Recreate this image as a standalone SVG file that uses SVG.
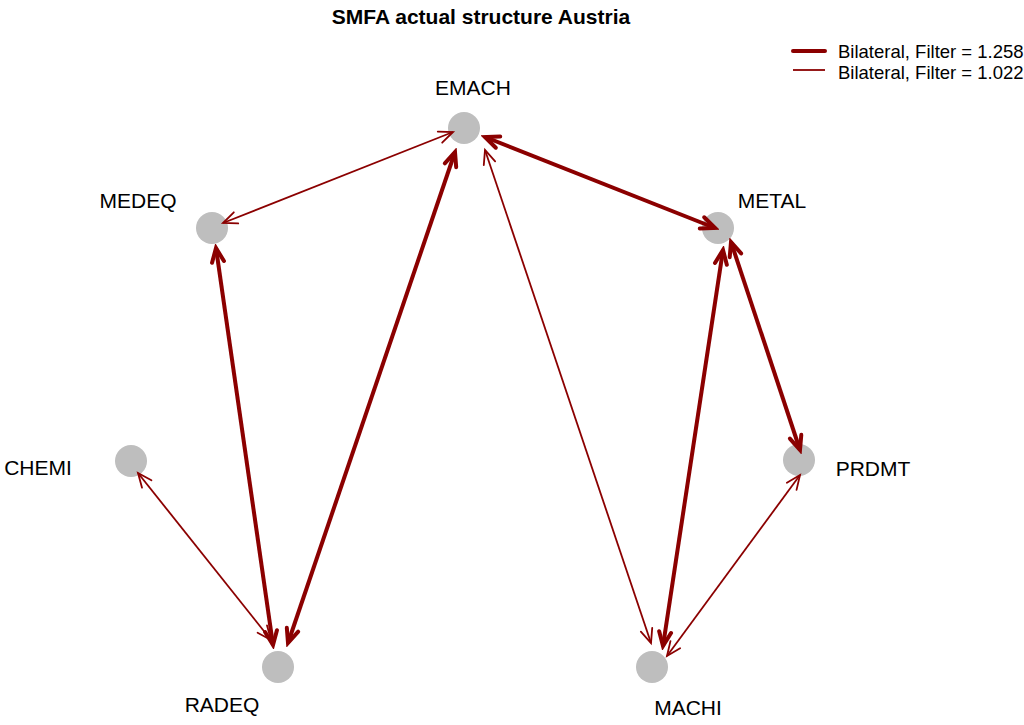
<svg xmlns="http://www.w3.org/2000/svg" width="1024" height="725" viewBox="0 0 1024 725">
<style>
.node{fill:#BEBEBE;}
.lbl{font-family:"Liberation Sans",Arial,sans-serif;font-size:21px;fill:#000;}
.title{font-family:"Liberation Sans",Arial,sans-serif;font-size:21px;font-weight:bold;fill:#000;}
.leg{font-family:"Liberation Sans",Arial,sans-serif;font-size:18.5px;fill:#000;}
.thick{stroke:#8B0000;stroke-width:4;fill:none;marker-start:url(#hk);marker-end:url(#hk);}
.thin{stroke:#8B0000;stroke-width:1.8;fill:none;marker-start:url(#hn);marker-end:url(#hn);}
</style>
<defs>
<marker id="hk" markerUnits="userSpaceOnUse" viewBox="-20 -10 24 20" refX="0" refY="0" markerWidth="24" markerHeight="20" orient="auto-start-reverse">
<path d="M-14,-6 L0,0 L-14,6" fill="none" stroke="#8B0000" stroke-width="4" stroke-linecap="round" stroke-linejoin="miter"/>
</marker>
<marker id="hn" markerUnits="userSpaceOnUse" viewBox="-20 -10 24 20" refX="0" refY="0" markerWidth="24" markerHeight="20" orient="auto-start-reverse">
<path d="M-14,-6 L0,0 L-14,6" fill="none" stroke="#8B0000" stroke-width="1.8" stroke-linecap="round"/>
</marker>
</defs>
<rect width="1024" height="725" fill="#fff"/>
<text class="title" x="481" y="24" text-anchor="middle">SMFA actual structure Austria</text>
<g id="legend">
<line x1="793" y1="51" x2="825" y2="51" stroke="#8B0000" stroke-width="4" stroke-linecap="round"/>
<line x1="793" y1="70" x2="825" y2="70" stroke="#8B0000" stroke-width="1.8"/>
<text class="leg" x="838" y="58">Bilateral, Filter = 1.258</text>
<text class="leg" x="838" y="79">Bilateral, Filter = 1.022</text>
</g>
<g id="EMACH"><circle class="node" cx="464" cy="128" r="16"/><text class="lbl" x="473" y="95" text-anchor="middle">EMACH</text></g>
<g id="MEDEQ"><circle class="node" cx="212" cy="228" r="16"/><text class="lbl" x="138" y="208" text-anchor="middle">MEDEQ</text></g>
<g id="METAL"><circle class="node" cx="718" cy="228" r="16"/><text class="lbl" x="772" y="208" text-anchor="middle">METAL</text></g>
<g id="CHEMI"><circle class="node" cx="131" cy="461" r="16"/><text class="lbl" x="38" y="475" text-anchor="middle">CHEMI</text></g>
<g id="PRDMT"><circle class="node" cx="799" cy="460" r="16"/><text class="lbl" x="873" y="476" text-anchor="middle">PRDMT</text></g>
<g id="RADEQ"><circle class="node" cx="278" cy="667" r="16"/><text class="lbl" x="222" y="712" text-anchor="middle">RADEQ</text></g>
<g id="MACHI"><circle class="node" cx="652" cy="667" r="16"/><text class="lbl" x="688" y="715" text-anchor="middle">MACHI</text></g>
<g id="connectors">
<line class="thin" x1="453" y1="132" x2="223" y2="223"/>
<line class="thick" x1="485" y1="137" x2="715" y2="228"/>
<line class="thick" x1="455" y1="152" x2="288" y2="643"/>
<line class="thin" x1="485" y1="150" x2="651" y2="643"/>
<line class="thick" x1="216" y1="248" x2="273" y2="645"/>
<line class="thin" x1="138" y1="473" x2="271" y2="640"/>
<line class="thick" x1="723" y1="250" x2="663" y2="646"/>
<line class="thick" x1="731" y1="242" x2="800" y2="450"/>
<line class="thin" x1="800" y1="475" x2="667" y2="656"/>
</g>
</svg>
